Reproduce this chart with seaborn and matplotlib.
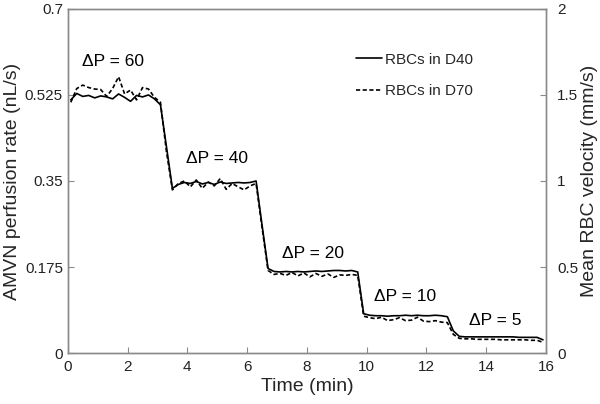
import pandas as pd
import matplotlib
matplotlib.use('Agg')
import matplotlib.pyplot as plt
import seaborn as sns

sns.set_style('white')
plt.rcParams['font.family'] = ['Liberation Sans', 'DejaVu Sans']

# ----------------------------------------
# Data (left axis, nL/s)
# ----------------------------------------
time_min = [0.1, 0.3, 0.5, 0.7, 0.9, 1.1, 1.3, 1.5, 1.7, 1.9,
            2.1, 2.3, 2.5, 2.7, 2.9, 3.1, 3.3, 3.5, 3.7, 3.9,
            4.1, 4.3, 4.5, 4.7, 4.9, 5.1, 5.3, 5.5, 5.7, 5.9,
            6.1, 6.3, 6.5, 6.7, 6.9, 7.1, 7.3, 7.5, 7.7, 7.9,
            8.1, 8.3, 8.5, 8.7, 8.9, 9.1, 9.3, 9.5, 9.7, 9.9,
            10.1, 10.3, 10.5, 10.7, 10.9, 11.1, 11.3, 11.5, 11.7, 11.9,
            12.1, 12.3, 12.5, 12.7, 12.9, 13.1, 13.3, 13.5, 13.7, 13.9,
            14.1, 14.3, 14.5, 14.7, 14.9, 15.1, 15.3, 15.5, 15.7, 15.9]

rate_d40 = [0.515, 0.528, 0.522, 0.524, 0.519, 0.523, 0.521, 0.517, 0.527, 0.520,
            0.512, 0.524, 0.521, 0.525, 0.517, 0.505, 0.420, 0.335, 0.343, 0.347,
            0.345, 0.349, 0.344, 0.347, 0.343, 0.348, 0.345, 0.346, 0.347, 0.346,
            0.347, 0.350, 0.260, 0.172, 0.166, 0.165, 0.166, 0.165, 0.166, 0.165,
            0.166, 0.167, 0.166, 0.167, 0.168, 0.168, 0.167, 0.168, 0.165, 0.080,
            0.077, 0.076, 0.076, 0.075, 0.076, 0.076, 0.077, 0.076, 0.077, 0.076,
            0.076, 0.077, 0.076, 0.074, 0.045, 0.034, 0.033, 0.033, 0.033, 0.033,
            0.033, 0.033, 0.033, 0.033, 0.033, 0.032, 0.032, 0.032, 0.032, 0.027]

rate_d70 = [0.510, 0.538, 0.545, 0.540, 0.537, 0.536, 0.522, 0.538, 0.562, 0.527,
            0.535, 0.515, 0.540, 0.537, 0.520, 0.510, 0.410, 0.332, 0.345, 0.350,
            0.338, 0.352, 0.335, 0.348, 0.340, 0.355, 0.333, 0.345, 0.338, 0.332,
            0.340, 0.345, 0.255, 0.168, 0.160, 0.162, 0.158, 0.164, 0.157, 0.163,
            0.155, 0.162, 0.156, 0.161, 0.154, 0.159, 0.158, 0.160, 0.158, 0.075,
            0.072, 0.070, 0.073, 0.066, 0.068, 0.072, 0.066, 0.067, 0.073, 0.065,
            0.064, 0.066, 0.063, 0.062, 0.038, 0.030, 0.029, 0.029, 0.028, 0.028,
            0.028, 0.028, 0.027, 0.027, 0.027, 0.027, 0.027, 0.026, 0.026, 0.022]

groups = ['RBCs in D40', 'RBCs in D70']

dp_labels = ['\u0394P = 60', '\u0394P = 40', '\u0394P = 20', '\u0394P = 10', '\u0394P = 5']
dp_time = [1.5, 5.0, 8.2, 11.3, 14.3]
dp_rate = [0.594, 0.395, 0.203, 0.115, 0.066]

left_ticks = [0, 0.175, 0.35, 0.525, 0.7]
left_ticklabels = ['0', '0.175', '0.35', '0.525', '0.7']
right_ticks = [0, 0.5, 1, 1.5, 2]
right_ticklabels = ['0', '0.5', '1', '1.5', '2']
x_ticks = [0, 2, 4, 6, 8, 10, 12, 14, 16]

df = pd.DataFrame({
    'Time': time_min + time_min,
    'Rate': rate_d40 + rate_d70,
    'Group': [groups[0]] * len(time_min) + [groups[1]] * len(time_min),
})

# ----------------------------------------
# Plot
# ----------------------------------------
fig = plt.figure(figsize=(6, 4.04), dpi=100)
ax = fig.add_axes([0.113, 0.126, 0.797, 0.852])

sns.lineplot(data=df, x='Time', y='Rate', style='Group', color='black',
             dashes={groups[0]: '', groups[1]: (2.5, 1.5)},
             linewidth=1.2, ax=ax)

for lbl, tx, ty in zip(dp_labels, dp_time, dp_rate):
    ax.text(tx, ty, lbl, ha='center', va='center', fontsize=12.5, color='black')

ax.set_xlim(0, 16)
ax.set_ylim(0, 0.7)
ax.set_xticks(x_ticks)
ax.set_yticks(left_ticks)
ax.set_yticklabels(left_ticklabels)
ax.set_xlabel('Time (min)', fontsize=14, labelpad=3)
ax.set_ylabel('AMVN perfusion rate (nL/s)', fontsize=14, labelpad=3)

spine_col = '#8a8a8a'
for sp in ax.spines.values():
    sp.set_color(spine_col)
    sp.set_linewidth(1.0)
ax.tick_params(direction='in', length=4, color=spine_col, labelsize=11,
               labelcolor='#222222', bottom=True, left=True, top=False, right=False)
ax.tick_params(axis='x', pad=5)

ax.legend(frameon=False, loc='upper left', bbox_to_anchor=(0.603, 0.873),
          fontsize=11, handlelength=1.7, handletextpad=0.2, labelspacing=1.15,
          borderpad=0, borderaxespad=0)

ax2 = ax.twinx()
ax2.set_ylim(0, 2)
ax2.set_yticks(right_ticks)
ax2.set_yticklabels(right_ticklabels)
ax2.set_ylabel('Mean RBC velocity (mm/s)', fontsize=14, labelpad=2)
for sp in ax2.spines.values():
    sp.set_color(spine_col)
    sp.set_linewidth(1.0)
ax2.tick_params(direction='in', length=4, color=spine_col, labelsize=11,
                labelcolor='#222222', right=True, left=False, pad=8)
ax2.grid(False)

fig.savefig('out.png', dpi=100)
